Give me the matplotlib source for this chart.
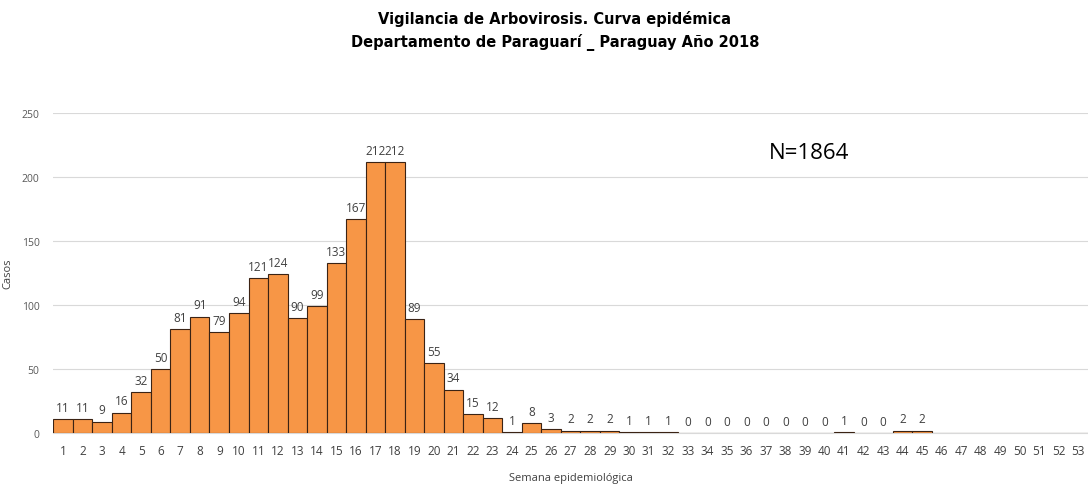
import numpy as np
import matplotlib.pyplot as plt

# semanas epidemiologicas 1..53
semanas = list(range(1, 54))
casos = [11, 11, 9, 16, 32, 50, 81, 91, 79, 94,
         121, 124, 90, 99, 133, 167, 212, 212, 89, 55,
         34, 15, 12, 1, 8, 3, 2, 2, 2, 1,
         1, 1, 0, 0, 0, 0, 0, 0, 0, 0,
         1, 0, 0, 2, 2]
# semanas 46-53 sin datos
casos = casos + [np.nan] * (len(semanas) - len(casos))
yticks = [0, 50, 100, 150, 200, 250]

plt.rcParams['font.family'] = ['Open Sans', 'DejaVu Sans']

fig = plt.figure(figsize=(10.88, 4.85), dpi=100)
ax = fig.add_axes([0.049, 0.105, 0.951, 0.66])

vals = np.array(casos, dtype=float)
ax.bar(semanas, np.nan_to_num(vals), width=1.0, color='#F79646',
       edgecolor='#3b2314', linewidth=0.8, zorder=3)

for s, v in zip(semanas, vals):
    if np.isnan(v):
        continue
    ax.text(s, v + 4, '%d' % v, ha='center', va='bottom',
            fontsize=8.5, color='#404040')

ax.set_xlim(0.5, 53.5)
ax.set_ylim(0, 250)
ax.set_xticks(semanas)
ax.set_xticklabels([str(s) for s in semanas], fontsize=8.5, color='#404040')
ax.set_yticks(yticks)
ax.set_yticklabels([str(t) for t in yticks], fontsize=7.5, color='#595959')
ax.tick_params(axis='x', length=0, pad=8)
ax.tick_params(axis='y', length=0, pad=10)

ax.grid(axis='y', color='#d9d9d9', linewidth=0.8, zorder=0)
for sp in ['top', 'right', 'left']:
    ax.spines[sp].set_visible(False)
ax.spines['bottom'].set_color('#d9d9d9')

ax.set_ylabel('Casos', fontsize=8, color='#404040', labelpad=6)
ax.set_xlabel('Semana epidemiológica', fontsize=8, color='#404040', labelpad=11)

ax.text(0.73, 0.875, 'N=1864', transform=ax.transAxes, ha='center',
        va='center', fontsize=16, color='black')

fig.text(0.51, 0.978, 'Vigilancia de Arbovirosis. Curva epidémica\n'
         'Departamento de Paraguarí _ Paraguay Año 2018',
         ha='center', va='top', fontsize=10.5, fontweight='bold',
         family='DejaVu Sans', linespacing=1.55)

fig.savefig('out.png', dpi=100)
